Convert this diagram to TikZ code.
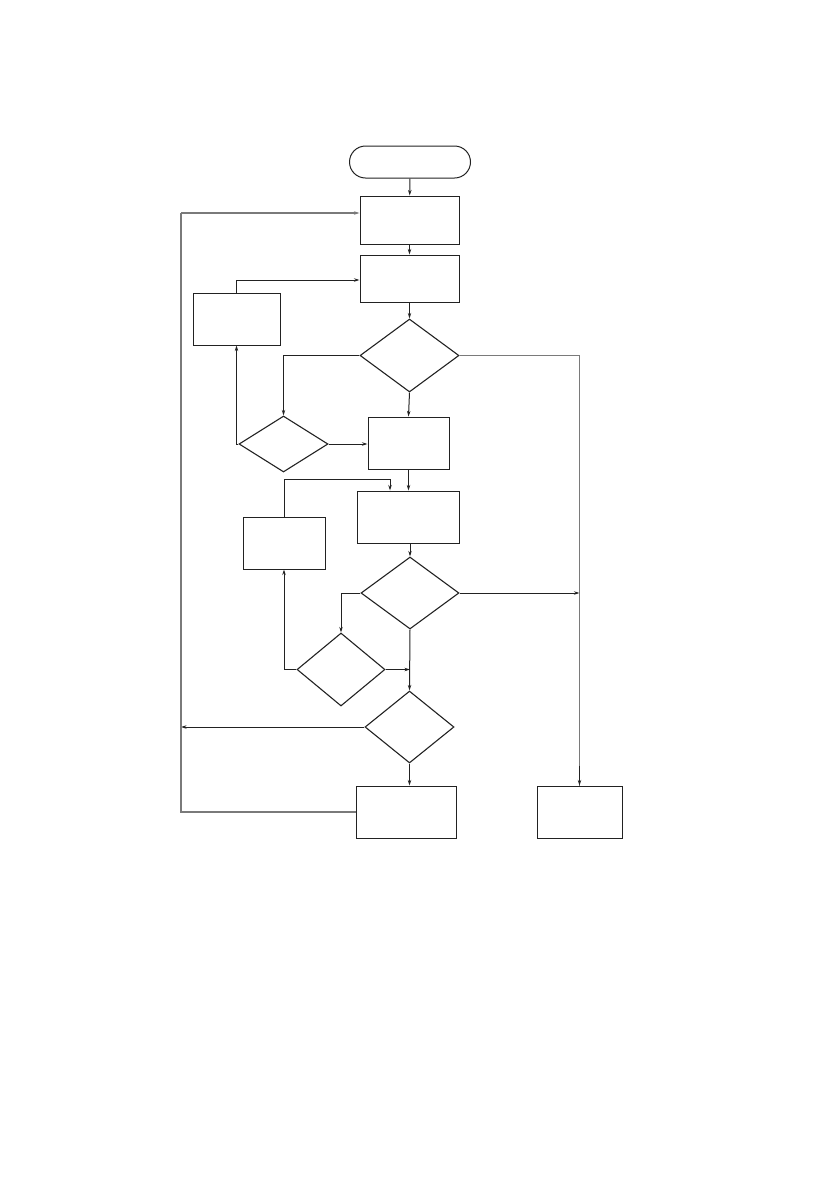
\documentclass[tikz,border=0pt]{standalone}
\usepackage{tikz}
\usetikzlibrary{arrows.meta, shapes.geometric, calc}
\definecolor{flowInk}{HTML}{222222}
\definecolor{flowGrey}{HTML}{7A7A7A}

\begin{document}
\begin{tikzpicture}[
  x=1pt, y=-1pt,
  >={Stealth[length=5.5pt, width=3.4pt]},
  proc/.style={draw=flowInk, line width=0.95pt, minimum width=#1, inner sep=0pt},
  proc/.default=99pt,
  test/.style={draw=flowInk, line width=1.1pt, shape=diamond, inner sep=0pt},
  term/.style={draw=flowInk, line width=1pt, rounded corners=16pt,
               minimum width=121pt, minimum height=32pt, inner sep=0pt},
  flow/.style={draw=flowInk, line width=1pt, ->},
  back/.style={draw=flowGrey, line width=1.1pt},
]
\useasboundingbox (0,0) rectangle (838,1192);

% ============================== main column =================================
\node[term] (start) at (410,162) {};
\node[proc, minimum height=48pt] (b1) at (409.5,220) {};
\node[proc, minimum height=47pt] (b2) at (409.5,278.5) {};
\node[test, minimum width=99pt, minimum height=73pt] (d1) at (409.5,355.5) {};
\node[proc=81pt, minimum height=52pt] (b4) at (408.5,443) {};
\node[proc=102pt, minimum height=52pt] (b5) at (408,517) {};
\node[test, minimum width=98pt, minimum height=72pt] (d3) at (410,593) {};
\node[test, minimum width=89pt, minimum height=72pt] (d5) at (409.5,727) {};
\node[proc=100pt, minimum height=52pt] (b7) at (406,812) {};

% ============================== side branches ===============================
\node[proc=87pt, minimum height=52pt] (b3) at (236.5,319) {};
\node[test, minimum width=89pt, minimum height=56pt] (d2) at (283.5,444) {};
\node[proc=82pt, minimum height=52pt] (b6) at (284,543) {};
\node[test, minimum width=88pt, minimum height=73pt] (d4) at (341,669.5) {};
\node[proc=85pt, minimum height=52pt] (b8) at (579.5,812) {};

% --- where the long lines turn ---
\coordinate (loopTop) at (181,213);
\coordinate (loopMid) at (181,727);
\coordinate (joinB5) at (390,479);

% ============================== connectors ==================================
\draw[flow] (start) -- (b1);
\draw[flow] (b1) -- (b2);
\draw[flow] (b2) -- (d1);
\draw[flow] (d1.west) -| (d2.north);
\draw[flow] (d2.east) -- (b4.west |- d2.east);
\draw[flow] (d2.west) -- (b3.south |- d2.west) -- (b3.south);
\draw[flow] (b3.north) |- ($(b2.west)+(0,1.5)$);
\draw[flow] (d1.south) -- (b4.north);
\draw[flow] (b4) -- (b4.south |- b5.north);
\draw[flow] (b6.north) |- (joinB5) -- (joinB5 |- b5.north);
\draw[flow] (b5.south -| d3.north) -- (d3.north);
\draw[flow] (d3.west) -| (d4.north);
\draw[flow] (d4.west) -| (b6.south);
\draw[flow] (d4.east) -- (d4.east -| d3.south);
\draw[flow] (d3.south) -- (d5.north);
\draw[flow] (d5.south) -- (d5.south |- b7.north);
\draw[flow] (d5.west) -- (loopMid);

% the two long returns, printed lighter
\draw[back] (b7.west) -- (b7.west -| loopTop) -- (loopTop);
\draw[back, ->] (loopTop) -- (b1.west |- loopTop);
\draw[back] (d1.east) -| (b8.north);
\draw[flow] ($(b8.north)+(0,-20)$) -- (b8.north);
\draw[flow] (d3.east) -- (d3.east -| b8.north);
\end{tikzpicture}
\end{document}
